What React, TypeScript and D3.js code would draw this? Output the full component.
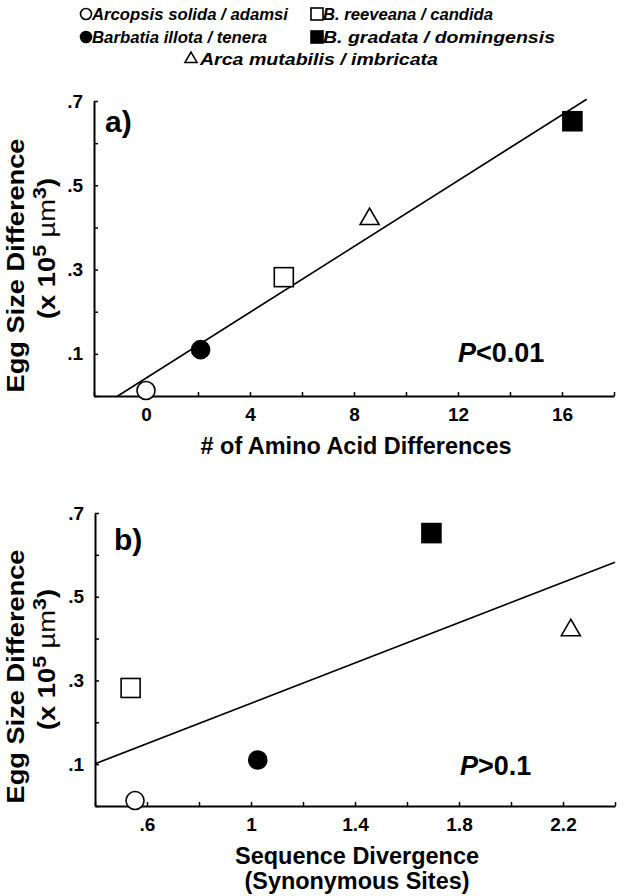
import React, { useEffect, useRef } from 'react';
import * as d3 from 'd3';

// species pairs, in the order the legend reads
const species = [
  'Arcopsis solida / adamsi',
  'Barbatia illota / tenera',
  'B. reeveana / candida',
  'B. gradata / domingensis',
  'Arca mutabilis / imbricata',
];
const shapes = ['circle', 'circle', 'square', 'square', 'triangle'];
const filled = [false, true, false, true, false];

// values
const aminoAcidDiffs = [0, 2.1, 5.3, 16.4, 8.6];
const seqDivergence = [0.554, 1.026, 0.537, 1.694, 2.23];
const eggSizeDiff = [0.013, 0.11, 0.282, 0.652, 0.42];

// tick values / labels
const yTickValues = d3.range(0, 8).map(i => i / 10);
const yLabelValues = [0.1, 0.3, 0.5, 0.7];
const aXTickValues = d3.range(-2, 19, 2);
const aXLabelValues = [0, 4, 8, 12, 16];
const bXTickValues = d3.range(2, 13).map(i => i / 5);
const bXLabelValues = [0.6, 1, 1.4, 1.8, 2.2];

const FONT = '"Liberation Sans", Arial, Helvetica, sans-serif';
const W = 637;
const H = 896;

const near = (list: number[], v: number) => list.some(d => Math.abs(d - v) < 1e-9);
const dropZero = (s: string) => s.replace(/^0\./, '.');

function fit(xs: number[], ys: number[]) {
  const mx = d3.mean(xs) as number;
  const my = d3.mean(ys) as number;
  const sxy = d3.sum(xs, (x, i) => (x - mx) * (ys[i] - my));
  const sxx = d3.sum(xs, x => (x - mx) * (x - mx));
  const slope = sxy / sxx;
  return { slope, intercept: my - slope * mx };
}

const panels = [
  {
    xs: aminoAcidDiffs,
    xDomain: [-2, 18],
    xTicks: aXTickValues,
    xLabels: aXLabelValues,
    fmt: (d: number) => d3.format('d')(d),
    left: 94, right: 614, top: 101, bottom: 396,
    label: 'a)', labelX: 105, labelY: 132,
    pRest: '<0.01', pX: 458, pY: 362,
    titles: ['# of Amino Acid Differences'],
    titleWidths: [311],
    lineX: [-1.1, 16.95],
  },
  {
    xs: seqDivergence,
    xDomain: [0.4, 2.4],
    xTicks: bXTickValues,
    xLabels: bXLabelValues,
    fmt: (d: number) => dropZero(d3.format('~g')(d)),
    left: 95, right: 615, top: 513, bottom: 806,
    label: 'b)', labelX: 114, labelY: 550,
    pRest: '>0.1', pX: 460, pY: 775,
    titles: ['Sequence Divergence', '(Synonymous Sites)'],
    titleWidths: [244, 225],
    lineX: [0.4, 2.4],
  },
];

function drawMarker(g: any, shape: string, fill: boolean, cx: number, cy: number, size: number) {
  const common = (sel: any) =>
    sel.attr('fill', fill ? '#000' : '#fff').attr('stroke', '#000').attr('stroke-width', 1.6);
  if (shape === 'circle') {
    common(g.append('circle').attr('cx', cx).attr('cy', cy).attr('r', size / 2));
  } else if (shape === 'square') {
    common(g.append('rect').attr('x', cx - size / 2).attr('y', cy - size / 2)
      .attr('width', size).attr('height', size));
  } else {
    const area = (size * size * Math.sqrt(3)) / 4;
    common(g.append('path')
      .attr('transform', `translate(${cx},${cy})`)
      .attr('d', d3.symbol(d3.symbolTriangle, area)()));
  }
}

export default function App() {
  const svgRef = useRef<SVGSVGElement>(null);

  useEffect(() => {
    document.body.style.margin = '0';
    if (!svgRef.current) return;
    const svg = d3.select(svgRef.current);
    svg.selectAll('*').remove();

    // legend layout (symbol centre + text width)
    const legendPos = [
      { x: 86, y: 14, w: 196 },
      { x: 86, y: 37, w: 175 },
      { x: 317, y: 14, w: 170 },
      { x: 317, y: 37, w: 232 },
      { x: 191, y: 59, w: 238 },
    ];
    const legend = svg.append('g');
    species.forEach((name, i) => {
      const p = legendPos[i];
      const sz = shapes[i] === 'circle' ? 11 : 12;
      drawMarker(legend, shapes[i], filled[i], p.x, p.y, sz);
      legend.append('text')
        .attr('x', p.x + (shapes[i] === 'triangle' ? 9 : 6))
        .attr('y', p.y + 6)
        .attr('font-family', FONT)
        .attr('font-size', 17)
        .attr('font-weight', 'bold')
        .attr('font-style', 'italic')
        .attr('textLength', p.w)
        .attr('lengthAdjust', 'spacingAndGlyphs')
        .text(name);
    });

    panels.forEach(p => {
      const g = svg.append('g');
      const x = d3.scaleLinear().domain(p.xDomain).range([p.left, p.right]);
      const y = d3.scaleLinear().domain([0, 0.7]).range([p.bottom, p.top]);

      // regression line
      const { slope, intercept } = fit(p.xs, eggSizeDiff);
      const line = d3.line<number>().x(d => x(d)).y(d => y(intercept + slope * d));
      g.append('path')
        .datum(p.lineX)
        .attr('fill', 'none')
        .attr('stroke', '#000')
        .attr('stroke-width', 1.6)
        .attr('d', line);

      // axes
      const xAxis = g.append('g')
        .attr('transform', `translate(0,${p.bottom})`)
        .call(d3.axisBottom(x)
          .tickValues(p.xTicks)
          .tickSizeInner(-4)
          .tickSizeOuter(0)
          .tickPadding(12)
          .tickFormat((d: any) => (near(p.xLabels, d) ? p.fmt(d) : '')));
      const yAxis = g.append('g')
        .attr('transform', `translate(${p.left},0)`)
        .call(d3.axisLeft(y)
          .tickValues(yTickValues)
          .tickSizeInner(-4)
          .tickSizeOuter(0)
          .tickPadding(11)
          .tickFormat((d: any) => (near(yLabelValues, d) ? dropZero(d3.format('.1f')(d)) : '')));
      [xAxis, yAxis].forEach(a => {
        a.selectAll('.domain').attr('stroke-width', 2);
        a.selectAll('.tick line').attr('stroke-width', 1.5);
        a.selectAll('text')
          .attr('font-family', FONT)
          .attr('font-size', 19)
          .attr('font-weight', 'bold')
          .attr('fill', '#000');
      });

      // points
      p.xs.forEach((xv, i) => {
        const sz = shapes[i] === 'circle' ? 18 : 19;
        drawMarker(g, shapes[i], filled[i], x(xv), y(eggSizeDiff[i]), sz);
      });

      // panel label
      g.append('text')
        .attr('x', p.labelX)
        .attr('y', p.labelY)
        .attr('font-family', FONT)
        .attr('font-size', 30)
        .attr('font-weight', 'bold')
        .text(p.label);

      // P value
      const pt = g.append('text')
        .attr('x', p.pX)
        .attr('y', p.pY)
        .attr('font-family', FONT)
        .attr('font-size', 27)
        .attr('font-weight', 'bold');
      pt.append('tspan').attr('font-style', 'italic').text('P');
      pt.append('tspan').text(p.pRest);

      // x title
      const cx = (p.left + p.right) / 2 + 2;
      p.titles.forEach((t, i) => {
        g.append('text')
          .attr('x', cx)
          .attr('y', p.bottom + 58 + i * 25)
          .attr('text-anchor', 'middle')
          .attr('font-family', FONT)
          .attr('font-size', 23)
          .attr('font-weight', 'bold')
          .attr('textLength', p.titleWidths[i])
          .attr('lengthAdjust', 'spacingAndGlyphs')
          .text(t);
      });

      // y title
      const cy = (p.top + p.bottom) / 2;
      g.append('text')
        .attr('transform', `translate(24,${cy + 17}) rotate(-90)`)
        .attr('text-anchor', 'middle')
        .attr('font-family', FONT)
        .attr('font-size', 24)
        .attr('font-weight', 'bold')
        .attr('textLength', 254)
        .attr('lengthAdjust', 'spacingAndGlyphs')
        .text('Egg Size Difference');
      const sub = g.append('text')
        .attr('transform', `translate(55,${cy}) rotate(-90)`)
        .attr('text-anchor', 'middle')
        .attr('font-family', FONT)
        .attr('font-size', 23)
        .attr('font-weight', 'bold')
        .attr('textLength', 141)
        .attr('lengthAdjust', 'spacingAndGlyphs');
      sub.append('tspan').text('(x 10');
      sub.append('tspan').attr('dy', -9).attr('font-size', 18).text('5');
      sub.append('tspan').attr('dy', 9).attr('font-weight', 'normal').text(' \u00b5m');
      sub.append('tspan').attr('dy', -9).attr('font-size', 18).text('3');
      sub.append('tspan').attr('dy', 9).text(')');
    });
  }, []);

  return (
    <svg ref={svgRef} width={W} height={H} style={{ display: 'block', background: '#fff' }} />
  );
}
